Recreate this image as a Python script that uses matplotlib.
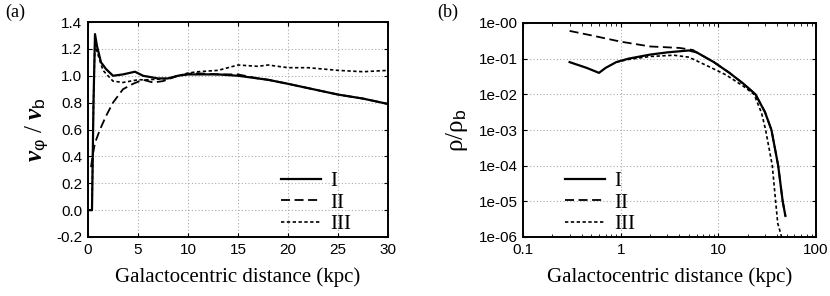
import numpy as np
import matplotlib
matplotlib.use("Agg")
import matplotlib.pyplot as plt
from matplotlib.ticker import FixedLocator, FixedFormatter, LogLocator, NullFormatter

plt.rcParams['font.family'] = ['Liberation Sans', 'DejaVu Sans']
plt.rcParams['mathtext.fontset'] = 'custom'
plt.rcParams['mathtext.rm'] = 'Liberation Serif'
plt.rcParams['mathtext.it'] = 'Liberation Serif:italic'
plt.rcParams['mathtext.bf'] = 'Liberation Serif:italic:bold'
plt.rcParams['mathtext.sf'] = 'Liberation Sans'

# (a) 回転速度
r1 = [0.0, 0.4, 0.55, 0.7, 0.9, 1.3, 1.8, 2.5, 3.5, 4.7, 5.5, 7.0, 8.0, 9.0, 10.0, 12.0,
      13.0, 15.0, 17.0, 18.0, 20.0, 22.5, 25.0, 27.5, 30.0]
v1 = [0.0, 0.0, 0.8, 1.31, 1.22, 1.10, 1.05, 1.00, 1.01, 1.03, 1.00, 0.98, 0.98, 1.00, 1.01, 1.01,
      1.01, 1.00, 0.98, 0.97, 0.94, 0.90, 0.86, 0.83, 0.79]
r2 = [0.3, 0.5, 0.7, 1.2, 1.8, 2.5, 3.5, 4.5, 5.5, 6.5, 7.5, 9.0, 10.5, 13.0, 15.0, 17.0,
      18.0, 20.0, 22.5, 25.0, 27.5, 30.0]
v2 = [0.32, 0.42, 0.50, 0.60, 0.70, 0.80, 0.90, 0.94, 0.97, 0.95, 0.96, 1.00, 1.02, 1.01, 1.01, 0.98,
      0.97, 0.94, 0.90, 0.86, 0.83, 0.79]
r3 = [0.0, 0.4, 0.55, 0.7, 0.9, 1.5, 2.5, 3.5, 5.0, 6.0, 8.0, 10.0, 11.0, 13.0, 15.0, 17.0,
      18.0, 20.0, 22.0, 25.0, 27.5, 30.0]
v3 = [0.0, 0.0, 0.8, 1.28, 1.18, 1.04, 0.96, 0.95, 0.97, 0.97, 0.98, 1.02, 1.03, 1.04, 1.08, 1.07,
      1.08, 1.06, 1.06, 1.04, 1.03, 1.04]

# (b) 密度
d1 = [0.3, 0.45, 0.6, 0.7, 0.9, 1.2, 2.0, 3.0, 5.0, 6.0, 9.0, 13.0, 18.0, 24.0, 30.0, 35.0,
      41.0, 45.6, 48.6]
p1 = [8e-2, 5.5e-2, 4e-2, 5.5e-2, 8e-2, 1e-1, 1.3e-1, 1.5e-1, 1.7e-1, 1.5e-1, 8e-2, 4e-2, 2e-2,
      1e-2, 3.2e-3, 1e-3, 1e-4, 1e-5, 3.9e-6]
d2 = [0.3, 0.5, 1.0, 2.0, 4.0, 5.5, 6.0, 9.0, 13.0, 18.0, 24.0, 30.0, 35.0,
      41.0, 45.6, 48.6]
p2 = [6e-1, 4.5e-1, 3e-1, 2.2e-1, 2e-1, 1.75e-1, 1.5e-1, 8e-2, 4e-2, 2e-2,
      1e-2, 3.2e-3, 1e-3, 1e-4, 1e-5, 3.9e-6]
d3 = [0.9, 1.2, 2.0, 3.5, 5.0, 8.0, 12.0, 18.0, 23.2, 27.7, 30.5, 35.7, 38.6, 40.6, 44.5, 48.0]
p3 = [8e-2, 9.5e-2, 1.15e-1, 1.25e-1, 1.1e-1, 6e-2, 3.5e-2, 1.7e-2, 1e-2, 3e-3, 1e-3, 1e-4,
      1e-5, 2.4e-6, 1e-6, 0.95e-6]

labels = ['I', 'II', 'III']
ytick_a = [-0.2, 0.0, 0.2, 0.4, 0.6, 0.8, 1.0, 1.2, 1.4]
ytick_b = ['1e-06', '1e-05', '1e-04', '1e-03', '1e-02', '1e-01', '1e-00']

styles = [dict(ls='-', lw=1.6), dict(ls=(0, (5, 2.5)), lw=1.3), dict(ls=(0, (2, 1.5)), lw=1.2)]

fig = plt.figure(figsize=(8.3, 2.96), dpi=100)
ax1 = fig.add_axes([88 / 830, 59 / 296, 300 / 830, 215 / 296])
ax2 = fig.add_axes([523 / 830, 59 / 296, 293 / 830, 214 / 296])

for (x, y), st, lab in zip([(r1, v1), (r2, v2), (r3, v3)], styles, labels):
    ax1.plot(x, y, color='black', label=lab, **st)
for (x, y), st, lab in zip([(d1, p1), (d2, p2), (d3, p3)], styles, labels):
    ax2.plot(x, y, color='black', label=lab, **st)

ax1.set_xlim(0, 30)
ax1.set_ylim(-0.2, 1.4)
ax1.set_xticks([0, 5, 10, 15, 20, 25, 30])
ax1.set_yticks(ytick_a)
ax1.set_yticklabels(['%.1f' % t for t in ytick_a])

ax2.set_xscale('log')
ax2.set_yscale('log')
ax2.set_xlim(0.1, 100)
ax2.set_ylim(1e-6, 1)
ax2.set_xticks([0.1, 1, 10, 100])
ax2.set_xticklabels(['0.1', '1', '10', '100'])
ax2.xaxis.set_minor_locator(LogLocator(subs=np.arange(2, 10)))
ax2.xaxis.set_minor_formatter(NullFormatter())
ax2.yaxis.set_major_locator(FixedLocator([10.0 ** k for k in range(-6, 1)]))
ax2.yaxis.set_major_formatter(FixedFormatter(ytick_b))
ax2.yaxis.set_minor_locator(FixedLocator([]))

# 凡例の位置 (軸座標)
leg_anchor = {ax1: ((281 - 88) / 300, 0.012), ax2: ((565 - 523) / 293, 0.012)}

for ax in (ax1, ax2):
    ax.grid(True, which='major', ls=(0, (1, 2)), color='#aaaaaa', lw=0.8)
    ax.tick_params(which='both', direction='in', top=True, right=True, labelsize=11, pad=4)
    ax.tick_params(which='major', length=3)
    ax.tick_params(which='minor', length=2)
    for s in ax.spines.values():
        s.set_linewidth(1.4)
    ax.set_xlabel('Galactocentric distance (kpc)', family='Liberation Serif', fontsize=15, labelpad=8)
    ax.legend(loc='lower left', bbox_to_anchor=leg_anchor[ax], frameon=False,
              prop={'family': 'Liberation Serif', 'size': 15}, handlelength=1.9,
              labelspacing=0.1, handletextpad=0.45, borderaxespad=0, borderpad=0)

ax1.set_ylabel(r'$\mathbf{v}_{\mathsf{\varphi}}\ /\ \mathbf{v}_{\mathsf{b}}$', fontsize=18, labelpad=4)
ax2.set_ylabel(r'$\mathrm{\rho}/\mathrm{\rho}_{\mathsf{b}}$', fontsize=18, labelpad=6)

fig.text(5 / 830, 1 - 17 / 296, '(a)', family='Liberation Serif', fontsize=13)
fig.text(437 / 830, 1 - 17 / 296, '(b)', family='Liberation Serif', fontsize=13)

fig.savefig('out.png', dpi=100)
